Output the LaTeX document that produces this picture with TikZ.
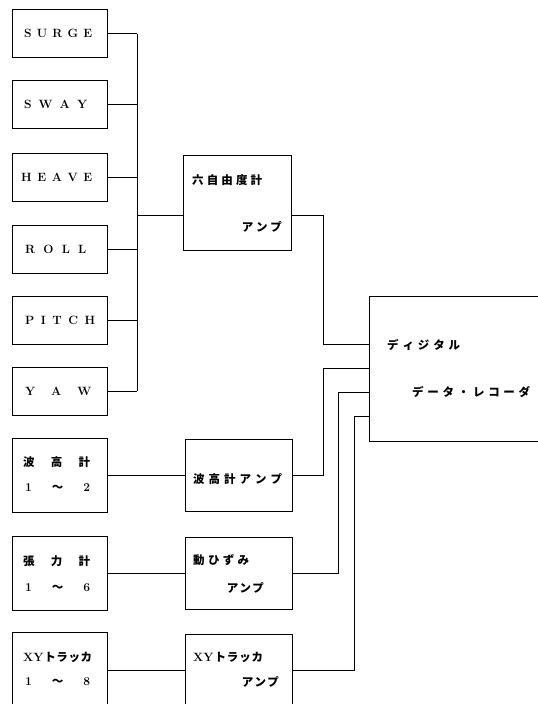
\documentclass[tikz,border=0pt]{standalone}
\usepackage{fontspec}
\newfontfamily\jp{Noto Sans CJK JP}
\usetikzlibrary{calc}
\tikzset{box/.style={draw, line width=1pt, minimum width=95pt, minimum height=48pt, inner sep=0pt},
  eng/.style={inner sep=0pt, font=\bfseries\fontsize{12}{14}\selectfont},
  lbl/.style={inner sep=0pt, font=\jp\bfseries\fontsize{11.5}{13}\selectfont},
  wire/.style={line width=1pt}}
\newcommand{\spread}[2]{\makebox[#1][s]{#2}}
\newcommand{\lat}[1]{{\rmfamily\bfseries\fontsize{12}{14}\selectfont #1}}

\begin{document}
\begin{tikzpicture}[x=1pt,y=-1pt]
  \useasboundingbox (0,0) rectangle (538,704);
  \clip (0,0) rectangle (538,704);
  % six motion channels
  \foreach \n/\y/\x/\w/\t in {surge/33.5/24/68pt/{S\hfill U\hfill R\hfill G\hfill E},
      sway/104.5/24/63pt/{S\hfill W\hfill A\hfill Y},
      heave/177.5/21/71pt/{H\hfill E\hfill A\hfill V\hfill E},
      roll/249/25/61pt/{R\hfill O\hfill L\hfill L},
      pitch/320/25/70pt/{P\hfill I\hfill T\hfill C\hfill H},
      yaw/391/25/66pt/{Y\hfill A\hfill W}}
  {
    \node[box] (\n) at (59.5,\y) {};
    \node[eng, anchor=west] (\n-t) at (\x,\y) {\spread{\w}{\t}};
  }
  % other sensors
  \node[box, minimum height=74pt] (wave) at (59.5,475.5) {};
  \node[lbl, anchor=west] (wave-t1) at (23,462) {\spread{67pt}{波\hfill 高\hfill 計}};
  \node[lbl, anchor=west] (wave-t2) at (25,488) {\spread{65pt}{\lat{1}\hfill ～\hfill \lat{2}}};
  \node[box, minimum height=74pt] (ten) at (59.5,573) {};
  \node[lbl, anchor=west] (ten-t1) at (23,561) {\spread{67pt}{張\hfill 力\hfill 計}};
  \node[lbl, anchor=west] (ten-t2) at (25,588) {\spread{65pt}{\lat{1}\hfill ～\hfill \lat{6}}};
  \node[box, minimum height=76pt] (xy) at (59.5,670) {};
  \node[lbl, anchor=west] (xy-t1) at (23,657) {\spread{69pt}{\lat{XY}\hfill ト\hfill ラ\hfill ッ\hfill カ}};
  \node[lbl, anchor=west] (xy-t2) at (25,682) {\spread{65pt}{\lat{1}\hfill ～\hfill \lat{8}}};

  % amplifiers
  \node[box, minimum width=108pt, minimum height=95pt] (amp1) at (237,202.5) {};
  \node[lbl, anchor=west] (amp1-t1) at (192,180) {\spread{70pt}{六\hfill 自\hfill 由\hfill 度\hfill 計}};
  \node[lbl, anchor=east] (amp1-t2) at (282,227) {\spread{40pt}{ア\hfill ン\hfill プ}};
  \node[box, minimum width=107pt, minimum height=72pt] (waveamp) at (238.5,475.5) {};
  \node[lbl, anchor=west] (waveamp-t) at (193,479) {\spread{89pt}{波\hfill 高\hfill 計\hfill ア\hfill ン\hfill プ}};
  \node[box, minimum width=107pt, minimum height=72pt] (tenamp) at (238.5,573) {};
  \node[lbl, anchor=west] (tenamp-t1) at (193,560) {\spread{56pt}{動\hfill ひ\hfill ず\hfill み}};
  \node[lbl, anchor=east] (tenamp-t2) at (264,588) {\spread{37pt}{ア\hfill ン\hfill プ}};
  \node[box, minimum width=107pt, minimum height=72pt] (xyamp) at (238.5,670) {};
  \node[lbl, anchor=west] (xyamp-t1) at (193,657) {\spread{70pt}{\lat{XY}\hfill ト\hfill ラ\hfill ッ\hfill カ}};
  \node[lbl, anchor=east] (xyamp-t2) at (279,682) {\spread{37pt}{ア\hfill ン\hfill プ}};

  % recorder
  \node[box, minimum width=180pt, minimum height=145pt] (rec) at (459,368.5) {};
  \node[lbl, anchor=west] (rec-t1) at (387,345) {\spread{73pt}{デ\hfill ィ\hfill ジ\hfill タ\hfill ル}};
  \node[lbl, anchor=west] (rec-t2) at (412,392) {\spread{118pt}{デ\hfill ー\hfill タ\hfill ・\hfill レ\hfill コ\hfill ー\hfill ダ}};

  % connections
  \coordinate (bus) at (137,215);
  \foreach \n in {surge,sway,heave,roll,pitch,yaw}
    \draw[wire] (\n.east) -- (\n.east -| bus);
  \draw[wire] (surge.east -| bus) -- (yaw.east -| bus);
  \draw[wire] (bus) -- (bus -| amp1.west);
  \draw[wire] (wave.east) -- (waveamp.west);
  \draw[wire] (ten.east) -- (tenamp.west);
  \draw[wire] (xy.east) -- (xyamp.west);
  \draw[wire] ([yshift=-12.5pt]amp1.east) -- ++(32,0) |- ([yshift=24.5pt]rec.west);
  \draw[wire] (waveamp.east) -- ++(31,0) |- ([yshift=0.5pt]rec.west);
  \draw[wire] (tenamp.east) -- ++(46,0) |- ([yshift=-23.5pt]rec.west);
  \draw[wire] (xyamp.east) -- ++(62,0) |- ([yshift=-47.5pt]rec.west);
\end{tikzpicture}
\end{document}
